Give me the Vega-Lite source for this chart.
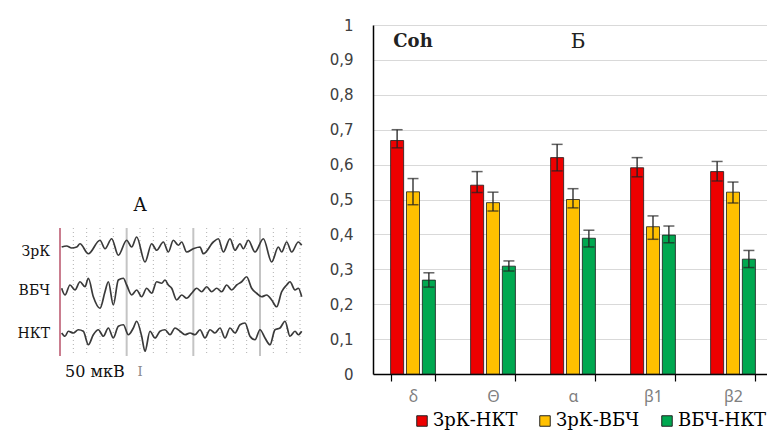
{
  "$schema": "https://vega.github.io/schema/vega-lite/v6.json",
  "padding": {"left": 0, "top": 18, "right": 0, "bottom": 0},
  "background": "white",
  "bounds": "flush",
  "spacing": 58,
  "config": {
    "view": {"stroke": null},
    "axisY": {"title": null, "ticks": false, "domainColor": "#000000", "domainWidth": 1.5, "grid": true, "gridColor": "#d9d9d9", "gridWidth": 1.2,
              "labelFont": "DejaVu Sans", "labelFontSize": 15, "labelColor": "#404040", "labelPadding": 20}
  },
  "datasets": {
    "eeg": [
      {"ch":"ЗрК","t":25,"v":508},{"ch":"ЗрК","t":100,"v":512},{"ch":"ЗрК","t":175,"v":504},{"ch":"ЗрК","t":250,"v":508},{"ch":"ЗрК","t":300,"v":521},{"ch":"ЗрК","t":425,"v":481},{"ch":"ЗрК","t":600,"v":535},{"ch":"ЗрК","t":675,"v":501},{"ch":"ЗрК","t":775,"v":541},{"ch":"ЗрК","t":875,"v":475},{"ch":"ЗрК","t":1000,"v":535},{"ch":"ЗрК","t":1075,"v":508},{"ch":"ЗрК","t":1150,"v":548},{"ch":"ЗрК","t":1275,"v":448},{"ch":"ЗрК","t":1375,"v":521},{"ch":"ЗрК","t":1450,"v":495},{"ch":"ЗрК","t":1550,"v":528},{"ch":"ЗрК","t":1625,"v":488},{"ch":"ЗрК","t":1700,"v":535},{"ch":"ЗрК","t":1775,"v":515},{"ch":"ЗрК","t":1825,"v":528},{"ch":"ЗрК","t":1900,"v":488},{"ch":"ЗрК","t":2000,"v":501},{"ch":"ЗрК","t":2100,"v":508},{"ch":"ЗрК","t":2150,"v":481},{"ch":"ЗрК","t":2300,"v":528},{"ch":"ЗрК","t":2375,"v":541},{"ch":"ЗрК","t":2450,"v":488},{"ch":"ЗрК","t":2550,"v":541},{"ch":"ЗрК","t":2625,"v":495},{"ch":"ЗрК","t":2700,"v":521},{"ch":"ЗрК","t":2750,"v":501},{"ch":"ЗрК","t":2825,"v":535},{"ch":"ЗрК","t":2925,"v":488},{"ch":"ЗрК","t":3050,"v":541},{"ch":"ЗрК","t":3175,"v":448},{"ch":"ЗрК","t":3275,"v":508},{"ch":"ЗрК","t":3325,"v":488},{"ch":"ЗрК","t":3400,"v":528},{"ch":"ЗрК","t":3475,"v":488},{"ch":"ЗрК","t":3575,"v":528},{"ch":"ЗрК","t":3625,"v":515},
      {"ch":"ВБЧ","t":25,"v":343},{"ch":"ВБЧ","t":75,"v":316},{"ch":"ВБЧ","t":150,"v":356},{"ch":"ВБЧ","t":225,"v":336},{"ch":"ВБЧ","t":300,"v":369},{"ch":"ВБЧ","t":375,"v":349},{"ch":"ВБЧ","t":425,"v":383},{"ch":"ВБЧ","t":500,"v":309},{"ch":"ВБЧ","t":600,"v":263},{"ch":"ВБЧ","t":675,"v":329},{"ch":"ВБЧ","t":725,"v":369},{"ch":"ВБЧ","t":800,"v":276},{"ch":"ВБЧ","t":875,"v":376},{"ch":"ВБЧ","t":950,"v":383},{"ch":"ВБЧ","t":1000,"v":356},{"ch":"ВБЧ","t":1075,"v":316},{"ch":"ВБЧ","t":1150,"v":336},{"ch":"ВБЧ","t":1225,"v":309},{"ch":"ВБЧ","t":1300,"v":343},{"ch":"ВБЧ","t":1375,"v":323},{"ch":"ВБЧ","t":1450,"v":369},{"ch":"ВБЧ","t":1525,"v":363},{"ch":"ВБЧ","t":1575,"v":376},{"ch":"ВБЧ","t":1625,"v":356},{"ch":"ВБЧ","t":1675,"v":343},{"ch":"ВБЧ","t":1750,"v":296},{"ch":"ВБЧ","t":1825,"v":316},{"ch":"ВБЧ","t":1900,"v":303},{"ch":"ВБЧ","t":1975,"v":323},{"ch":"ВБЧ","t":2050,"v":343},{"ch":"ВБЧ","t":2125,"v":329},{"ch":"ВБЧ","t":2200,"v":349},{"ch":"ВБЧ","t":2275,"v":329},{"ch":"ВБЧ","t":2350,"v":343},{"ch":"ВБЧ","t":2425,"v":329},{"ch":"ВБЧ","t":2500,"v":356},{"ch":"ВБЧ","t":2575,"v":336},{"ch":"ВБЧ","t":2650,"v":356},{"ch":"ВБЧ","t":2725,"v":369},{"ch":"ВБЧ","t":2800,"v":389},{"ch":"ВБЧ","t":2875,"v":343},{"ch":"ВБЧ","t":2950,"v":323},{"ch":"ВБЧ","t":3025,"v":309},{"ch":"ВБЧ","t":3100,"v":316},{"ch":"ВБЧ","t":3175,"v":296},{"ch":"ВБЧ","t":3250,"v":269},{"ch":"ВБЧ","t":3325,"v":329},{"ch":"ВБЧ","t":3400,"v":356},{"ch":"ВБЧ","t":3450,"v":369},{"ch":"ВБЧ","t":3525,"v":336},{"ch":"ВБЧ","t":3575,"v":343},{"ch":"ВБЧ","t":3625,"v":309},
      {"ch":"НКТ","t":25,"v":164},{"ch":"НКТ","t":75,"v":151},{"ch":"НКТ","t":125,"v":171},{"ch":"НКТ","t":200,"v":164},{"ch":"НКТ","t":275,"v":177},{"ch":"НКТ","t":350,"v":171},{"ch":"НКТ","t":425,"v":117},{"ch":"НКТ","t":500,"v":157},{"ch":"НКТ","t":575,"v":177},{"ch":"НКТ","t":650,"v":151},{"ch":"НКТ","t":725,"v":184},{"ch":"НКТ","t":800,"v":144},{"ch":"НКТ","t":875,"v":191},{"ch":"НКТ","t":950,"v":197},{"ch":"НКТ","t":1025,"v":157},{"ch":"НКТ","t":1100,"v":184},{"ch":"НКТ","t":1150,"v":211},{"ch":"НКТ","t":1225,"v":151},{"ch":"НКТ","t":1275,"v":91},{"ch":"НКТ","t":1350,"v":171},{"ch":"НКТ","t":1425,"v":144},{"ch":"НКТ","t":1500,"v":171},{"ch":"НКТ","t":1575,"v":177},{"ch":"НКТ","t":1650,"v":157},{"ch":"НКТ","t":1725,"v":184},{"ch":"НКТ","t":1800,"v":171},{"ch":"НКТ","t":1875,"v":157},{"ch":"НКТ","t":1950,"v":164},{"ch":"НКТ","t":2025,"v":157},{"ch":"НКТ","t":2100,"v":177},{"ch":"НКТ","t":2175,"v":144},{"ch":"НКТ","t":2250,"v":177},{"ch":"НКТ","t":2325,"v":164},{"ch":"НКТ","t":2400,"v":184},{"ch":"НКТ","t":2475,"v":144},{"ch":"НКТ","t":2550,"v":184},{"ch":"НКТ","t":2625,"v":164},{"ch":"НКТ","t":2700,"v":197},{"ch":"НКТ","t":2775,"v":204},{"ch":"НКТ","t":2850,"v":151},{"ch":"НКТ","t":2925,"v":137},{"ch":"НКТ","t":3000,"v":177},{"ch":"НКТ","t":3075,"v":144},{"ch":"НКТ","t":3150,"v":117},{"ch":"НКТ","t":3225,"v":177},{"ch":"НКТ","t":3300,"v":184},{"ch":"НКТ","t":3375,"v":211},{"ch":"НКТ","t":3450,"v":151},{"ch":"НКТ","t":3525,"v":171},{"ch":"НКТ","t":3575,"v":157},{"ch":"НКТ","t":3625,"v":171}
    ],
    "lgrid": [
      {"t":0,"kind":"start"},
      {"t":200,"kind":"minor"},{"t":400,"kind":"minor"},{"t":600,"kind":"minor"},{"t":800,"kind":"minor"},
      {"t":1000,"kind":"major"},
      {"t":1200,"kind":"minor"},{"t":1400,"kind":"minor"},{"t":1600,"kind":"minor"},{"t":1800,"kind":"minor"},
      {"t":2000,"kind":"major"},
      {"t":2200,"kind":"minor"},{"t":2400,"kind":"minor"},{"t":2600,"kind":"minor"},{"t":2800,"kind":"minor"},
      {"t":3000,"kind":"major"},
      {"t":3200,"kind":"minor"},{"t":3400,"kind":"minor"},{"t":3600,"kind":"minor"}
    ],
    "ltext": [
      {"label":"ЗрК","t":-150,"v":490,"role":"ch"},
      {"label":"ВБЧ","t":-150,"v":332,"role":"ch"},
      {"label":"НКТ","t":-150,"v":160,"role":"ch"},
      {"label":"А","t":1200,"v":672,"role":"title"},
      {"label":"50 мкВ","t":75,"v":8,"role":"scale"},
      {"label":"I","t":1200,"v":8,"role":"bar"}
    ],
    "bars": [
      {"band":"δ","pair":"ЗрК-НКТ","coh":0.669,"lo":0.648,"hi":0.700},
      {"band":"δ","pair":"ЗрК-ВБЧ","coh":0.522,"lo":0.485,"hi":0.560},
      {"band":"δ","pair":"ВБЧ-НКТ","coh":0.269,"lo":0.249,"hi":0.290},
      {"band":"Θ","pair":"ЗрК-НКТ","coh":0.541,"lo":0.520,"hi":0.580},
      {"band":"Θ","pair":"ЗрК-ВБЧ","coh":0.491,"lo":0.467,"hi":0.521},
      {"band":"Θ","pair":"ВБЧ-НКТ","coh":0.309,"lo":0.295,"hi":0.324},
      {"band":"α","pair":"ЗрК-НКТ","coh":0.620,"lo":0.582,"hi":0.658},
      {"band":"α","pair":"ЗрК-ВБЧ","coh":0.500,"lo":0.476,"hi":0.531},
      {"band":"α","pair":"ВБЧ-НКТ","coh":0.389,"lo":0.364,"hi":0.412},
      {"band":"β1","pair":"ЗрК-НКТ","coh":0.591,"lo":0.565,"hi":0.620},
      {"band":"β1","pair":"ЗрК-ВБЧ","coh":0.422,"lo":0.386,"hi":0.453},
      {"band":"β1","pair":"ВБЧ-НКТ","coh":0.398,"lo":0.376,"hi":0.424},
      {"band":"β2","pair":"ЗрК-НКТ","coh":0.580,"lo":0.553,"hi":0.609},
      {"band":"β2","pair":"ЗрК-ВБЧ","coh":0.521,"lo":0.490,"hi":0.550},
      {"band":"β2","pair":"ВБЧ-НКТ","coh":0.329,"lo":0.305,"hi":0.354}
    ],
    "btext": [
      {"band":"δ","pos":0.95,"label":"Coh"},
      {"band":"α","pos":0.95,"label":"Б"}
    ]
  },
  "hconcat": [
    {
      "width": 315,
      "height": 380,
      "layer": [
        {"data": {"name": "lgrid"}, "transform": [{"filter": "datum.kind == 'minor'"}],
         "mark": {"type": "rule", "color": "#b0b0b0", "strokeDash": [1, 3], "strokeWidth": 1},
         "encoding": {
           "x": {"field": "t", "type": "quantitative", "scale": {"domain": [-900, 3825], "nice": false, "zero": false}, "axis": null},
           "y": {"datum": 584, "type": "quantitative", "scale": {"domain": [-124, 1396], "nice": false, "zero": false}, "axis": null},
           "y2": {"datum": 72}}},
        {"data": {"name": "lgrid"}, "transform": [{"filter": "datum.kind == 'major'"}],
         "mark": {"type": "rule", "color": "#c4c4c4", "strokeWidth": 2},
         "encoding": {
           "x": {"field": "t", "type": "quantitative", "scale": {"domain": [-900, 3825], "nice": false, "zero": false}, "axis": null},
           "y": {"datum": 584, "type": "quantitative", "scale": {"domain": [-124, 1396], "nice": false, "zero": false}, "axis": null},
           "y2": {"datum": 72}}},
        {"data": {"name": "lgrid"}, "transform": [{"filter": "datum.kind == 'start'"}],
         "mark": {"type": "rule", "color": "#b8526a", "strokeWidth": 1.5},
         "encoding": {
           "x": {"field": "t", "type": "quantitative", "scale": {"domain": [-900, 3825], "nice": false, "zero": false}, "axis": null},
           "y": {"datum": 584, "type": "quantitative", "scale": {"domain": [-124, 1396], "nice": false, "zero": false}, "axis": null},
           "y2": {"datum": 72}}},
        {"data": {"name": "eeg"},
         "mark": {"type": "line", "color": "#3a3a3a", "strokeWidth": 1.7, "interpolate": "monotone"},
         "encoding": {
           "x": {"field": "t", "type": "quantitative", "scale": {"domain": [-900, 3825], "nice": false, "zero": false}, "axis": null},
           "y": {"field": "v", "type": "quantitative", "scale": {"domain": [-124, 1396], "nice": false, "zero": false}, "axis": null},
           "detail": {"field": "ch"}, "order": {"field": "t", "type": "quantitative"}}},
        {"data": {"name": "ltext"}, "transform": [{"filter": "datum.role == 'ch'"}],
         "mark": {"type": "text", "align": "right", "baseline": "middle", "font": "DejaVu Serif", "fontSize": 14, "color": "#111111"},
         "encoding": {
           "x": {"field": "t", "type": "quantitative", "scale": {"domain": [-900, 3825], "nice": false, "zero": false}, "axis": null},
           "y": {"field": "v", "type": "quantitative", "scale": {"domain": [-124, 1396], "nice": false, "zero": false}, "axis": null},
           "text": {"field": "label"}}},
        {"data": {"name": "ltext"}, "transform": [{"filter": "datum.role == 'title'"}],
         "mark": {"type": "text", "align": "center", "baseline": "middle", "font": "DejaVu Serif", "fontSize": 18, "color": "#111111"},
         "encoding": {
           "x": {"field": "t", "type": "quantitative", "scale": {"domain": [-900, 3825], "nice": false, "zero": false}, "axis": null},
           "y": {"field": "v", "type": "quantitative", "scale": {"domain": [-124, 1396], "nice": false, "zero": false}, "axis": null},
           "text": {"field": "label"}}},
        {"data": {"name": "ltext"}, "transform": [{"filter": "datum.role == 'scale'"}],
         "mark": {"type": "text", "align": "left", "baseline": "middle", "font": "DejaVu Serif", "fontSize": 16, "color": "#111111"},
         "encoding": {
           "x": {"field": "t", "type": "quantitative", "scale": {"domain": [-900, 3825], "nice": false, "zero": false}, "axis": null},
           "y": {"field": "v", "type": "quantitative", "scale": {"domain": [-124, 1396], "nice": false, "zero": false}, "axis": null},
           "text": {"field": "label"}}},
        {"data": {"name": "ltext"}, "transform": [{"filter": "datum.role == 'bar'"}],
         "mark": {"type": "text", "align": "center", "baseline": "middle", "font": "DejaVu Serif", "fontSize": 13, "color": "#8a8a8a"},
         "encoding": {
           "x": {"field": "t", "type": "quantitative", "scale": {"domain": [-900, 3825], "nice": false, "zero": false}, "axis": null},
           "y": {"field": "v", "type": "quantitative", "scale": {"domain": [-124, 1396], "nice": false, "zero": false}, "axis": null},
           "text": {"field": "label"}}}
      ]
    },
    {
      "width": 400,
      "height": 349,
      "data": {"name": "bars"},
      "encoding": {
        "x": {"field": "band", "type": "nominal", "sort": ["δ", "Θ", "α", "β1", "β2"],
              "scale": {"paddingInner": 0.44, "paddingOuter": 0.22},
              "axis": {"title": null, "labelAngle": 0, "tickBand": "extent", "tickSize": 7, "tickColor": "#000000", "tickWidth": 1.2,
                       "domainColor": "#000000", "domainWidth": 1.5, "labelFont": "Noto Sans", "labelFontSize": 16,
                       "labelColor": "#808080", "labelPadding": 7, "grid": false}}
      },
      "layer": [
        {"mark": {"type": "bar", "stroke": "#1a1a1a", "strokeWidth": 0.8},
         "encoding": {
           "xOffset": {"field": "pair", "type": "nominal", "sort": ["ЗрК-НКТ", "ЗрК-ВБЧ", "ВБЧ-НКТ"], "scale": {"paddingInner": 0.18}},
           "y": {"field": "coh", "type": "quantitative", "scale": {"domain": [0, 1], "nice": false},
                 "axis": {"values": [0, 0.1, 0.2, 0.3, 0.4, 0.5, 0.6, 0.7, 0.8, 0.9, 1], "labelOverlap": false,
                          "labelExpr": "replace(format(datum.value, '.1~f'), '.', ',')"}},
           "color": {"field": "pair", "type": "nominal", "sort": ["ЗрК-НКТ", "ЗрК-ВБЧ", "ВБЧ-НКТ"],
                     "scale": {"domain": ["ЗрК-НКТ", "ЗрК-ВБЧ", "ВБЧ-НКТ"], "range": ["#ee0000", "#ffc000", "#00a850"]},
                     "legend": {"orient": "none", "legendX": 40, "legendY": 387, "direction": "horizontal", "title": null,
                                "symbolType": "square", "symbolSize": 110, "symbolStrokeColor": "#222222", "symbolStrokeWidth": 1,
                                "labelFont": "DejaVu Serif", "labelFontSize": 18, "labelColor": "#000000", "labelOffset": 2,
                                "columnPadding": 18, "labelLimit": 300}}
         }},
        {"mark": {"type": "rule", "color": "#222222", "strokeWidth": 1.3},
         "encoding": {
           "xOffset": {"field": "pair", "type": "nominal", "sort": ["ЗрК-НКТ", "ЗрК-ВБЧ", "ВБЧ-НКТ"]},
           "y": {"field": "lo", "type": "quantitative",
                 "axis": {"values": [0, 0.1, 0.2, 0.3, 0.4, 0.5, 0.6, 0.7, 0.8, 0.9, 1], "labelOverlap": false,
                          "labelExpr": "replace(format(datum.value, '.1~f'), '.', ',')"}},
           "y2": {"field": "hi"}}},
        {"mark": {"type": "tick", "color": "#222222", "thickness": 1.5, "size": 11},
         "encoding": {
           "xOffset": {"field": "pair", "type": "nominal", "sort": ["ЗрК-НКТ", "ЗрК-ВБЧ", "ВБЧ-НКТ"]},
           "y": {"field": "hi", "type": "quantitative",
                 "axis": {"values": [0, 0.1, 0.2, 0.3, 0.4, 0.5, 0.6, 0.7, 0.8, 0.9, 1], "labelOverlap": false,
                          "labelExpr": "replace(format(datum.value, '.1~f'), '.', ',')"}}}},
        {"mark": {"type": "tick", "color": "#222222", "thickness": 1.5, "size": 11},
         "encoding": {
           "xOffset": {"field": "pair", "type": "nominal", "sort": ["ЗрК-НКТ", "ЗрК-ВБЧ", "ВБЧ-НКТ"]},
           "y": {"field": "lo", "type": "quantitative",
                 "axis": {"values": [0, 0.1, 0.2, 0.3, 0.4, 0.5, 0.6, 0.7, 0.8, 0.9, 1], "labelOverlap": false,
                          "labelExpr": "replace(format(datum.value, '.1~f'), '.', ',')"}}}},
        {"data": {"name": "btext"}, "transform": [{"filter": "datum.label == 'Coh'"}],
         "mark": {"type": "text", "font": "DejaVu Serif", "fontSize": 18, "fontWeight": "bold", "color": "#222222"},
         "encoding": {"y": {"field": "pos", "type": "quantitative",
                            "axis": {"values": [0, 0.1, 0.2, 0.3, 0.4, 0.5, 0.6, 0.7, 0.8, 0.9, 1], "labelOverlap": false,
                                     "labelExpr": "replace(format(datum.value, '.1~f'), '.', ',')"}},
                      "text": {"field": "label"}}},
        {"data": {"name": "btext"}, "transform": [{"filter": "datum.label == 'Б'"}],
         "mark": {"type": "text", "font": "DejaVu Serif", "fontSize": 20, "color": "#222222", "dx": 5},
         "encoding": {"y": {"field": "pos", "type": "quantitative",
                            "axis": {"values": [0, 0.1, 0.2, 0.3, 0.4, 0.5, 0.6, 0.7, 0.8, 0.9, 1], "labelOverlap": false,
                                     "labelExpr": "replace(format(datum.value, '.1~f'), '.', ',')"}},
                      "text": {"field": "label"}}}
      ]
    }
  ],
  "resolve": {"scale": {"color": "independent"}, "legend": {"color": "independent"}}
}
